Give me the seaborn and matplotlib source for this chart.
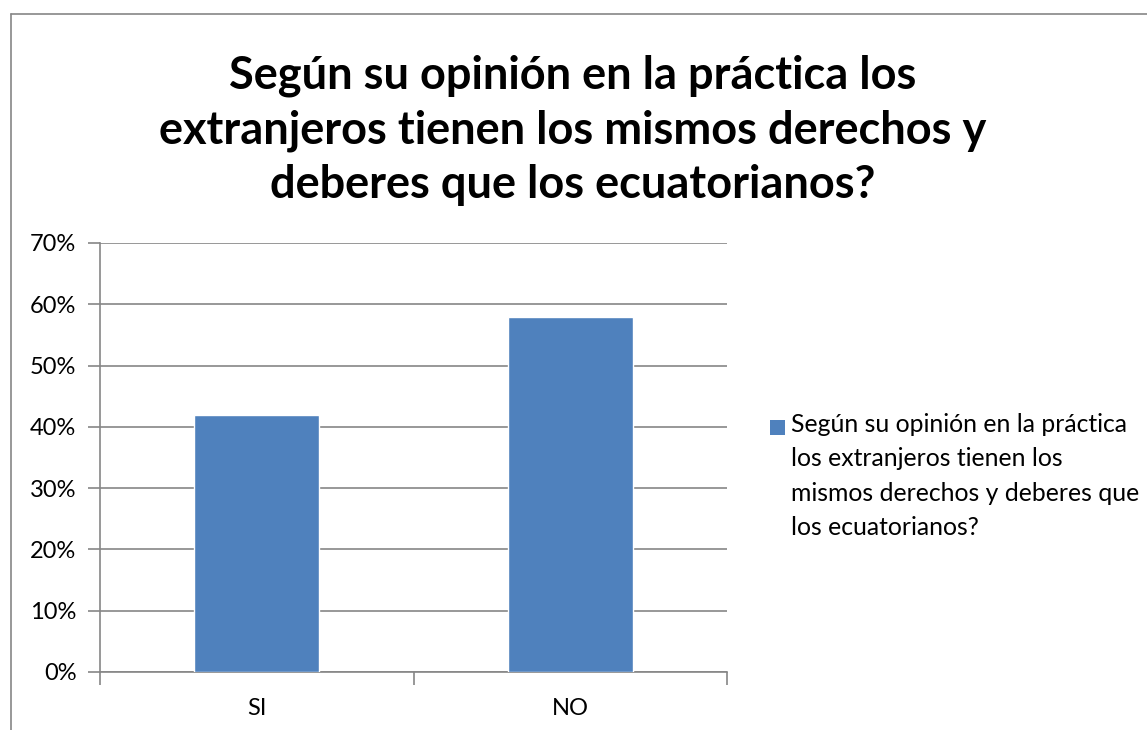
import numpy as np
import matplotlib
matplotlib.use("Agg")
import matplotlib.pyplot as plt
from matplotlib.lines import Line2D
from matplotlib.patches import Rectangle
from matplotlib.ticker import MultipleLocator, PercentFormatter
import seaborn as sns

# data
categories = ["SI", "NO"]
values = [0.42, 0.58]
series_name = ("Según su opinión en la práctica\nlos extranjeros tienen los\n"
               "mismos derechos y deberes que\nlos ecuatorianos?")
title = ("Según su opinión en la práctica los\nextranjeros tienen los mismos derechos y\n"
         "deberes que los ecuatorianos?")

bar_color = "#4F81BD"
grid_color = "#868686"

sns.set_theme(style="white")
plt.rcParams['font.family'] = ['Lato', 'DejaVu Sans']
plt.rcParams['text.color'] = 'black'

W, H = 1147, 730
fig = plt.figure(figsize=(W / 100, H / 100), dpi=100)
ax = fig.add_axes([100 / W, 1 - 672 / H, 627 / W, (672 - 243) / H])

sns.barplot(x=categories, y=values, color=bar_color, width=0.4,
            saturation=1, ax=ax, zorder=3)

ax.set_ylim(0, 0.7)
ax.set_xlim(-0.5, 1.5)
ax.yaxis.set_major_locator(MultipleLocator(0.1))
ax.yaxis.set_major_formatter(PercentFormatter(1.0, decimals=0))
ax.grid(axis="y", color=grid_color, lw=1.2, zorder=0)
ax.set_xlabel("")
ax.set_ylabel("")

for s in ["top", "right"]:
    ax.spines[s].set_visible(False)
for s in ["left", "bottom"]:
    ax.spines[s].set_color(grid_color)
    ax.spines[s].set_linewidth(1.2)

# y ticks outside, x ticks at category boundaries
ax.tick_params(axis="y", which="both", left=True, length=9, width=1.2,
               color=grid_color, labelsize=17, pad=8, labelcolor="black")
ax.set_xticks([0, 1])
ax.set_xticks([-0.5, 0.5, 1.5], minor=True)
ax.tick_params(axis="x", which="major", bottom=False, labelsize=17, pad=13,
               labelcolor="black")
ax.tick_params(axis="x", which="minor", bottom=True, length=9, width=1.2,
               color=grid_color)

fig.text(573 / W, 1 - 130 / H, title, ha="center", va="center",
         fontsize=32.5, fontweight="bold", linespacing=1.36, color="black")

# legend: square aligned with the first text line
fig.add_artist(Rectangle((770 / W, 1 - 435 / H), 15 / W, 15 / H,
                         transform=fig.transFigure, facecolor=bar_color,
                         edgecolor="none"))
fig.text(791 / W, 1 - 476 / H, series_name, ha="left", va="center",
         fontsize=17.8, linespacing=1.6, color="black")

# chart border (left and top visible)
fig.add_artist(Line2D([11 / W, 11 / W], [0, 1 - 14 / H], transform=fig.transFigure,
                      color=grid_color, lw=1.2))
fig.add_artist(Line2D([11 / W, 1], [1 - 14 / H, 1 - 14 / H], transform=fig.transFigure,
                      color=grid_color, lw=1.2))

fig.savefig("out.png", dpi=100)
